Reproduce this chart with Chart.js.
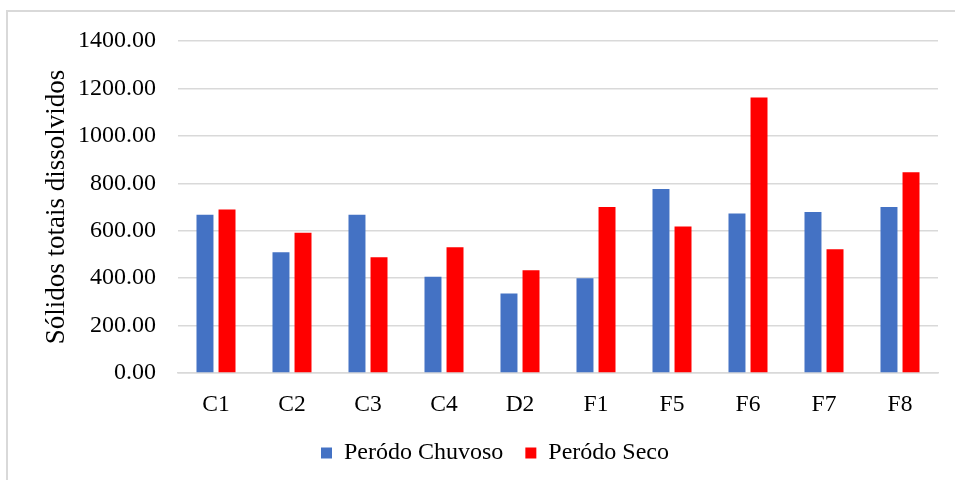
<!DOCTYPE html>
<html>
<head>
<meta charset="utf-8">
<script src="https://cdn.jsdelivr.net/npm/chart.js@4/dist/chart.umd.min.js"></script>
<style>
  html, body { margin: 0; padding: 0; background: #ffffff; }
  #wrap { position: relative; width: 955px; height: 480px; overflow: hidden; }
  #frame {
    position: absolute; left: 6px; top: 10px; width: 1000px; height: 600px;
    border-top: 2px solid #d9d9d9; border-left: 2px solid #d9d9d9;
  }
  #chart { position: absolute; left: 0; top: 0; }
</style>
</head>
<body>
<div id="wrap">
  <div id="frame"></div>
  <canvas id="chart" width="955" height="480"></canvas>
</div>
<script>
// Sampling points
const categories = ['C1', 'C2', 'C3', 'C4', 'D2', 'F1', 'F5', 'F6', 'F7', 'F8'];
// Total dissolved solids per sampling point
const chuvoso = [667, 509, 667, 406, 335, 400, 776, 673, 679, 700];
const seco = [689, 591, 488, 530, 433, 700, 618, 1162, 522, 847];
const seriesNames = ['Peródo Chuvoso', 'Peródo Seco'];
const yTitle = 'Sólidos totais dissolvidos';
const yMin = 0, yMax = 1400, yStep = 200;

const serif = 'Liberation Serif';
const gridColor = '#d9d9d9';
const padLeft = 52;   // shifts the centred legend; the y axis absorbs it

Chart.defaults.font.family = serif;
Chart.defaults.color = '#000000';

new Chart(document.getElementById('chart'), {
  type: 'bar',
  data: {
    labels: categories,
    datasets: [
      { label: seriesNames[0], data: chuvoso, backgroundColor: '#4472c4',
        categoryPercentage: 0.58, barPercentage: 0.77 },
      { label: seriesNames[1], data: seco, backgroundColor: '#ff0000',
        categoryPercentage: 0.58, barPercentage: 0.77 }
    ]
  },
  options: {
    responsive: false,
    animation: false,
    layout: { padding: { left: padLeft, right: 17, top: 41, bottom: 5 } },
    plugins: {
      tooltip: { enabled: false },
      legend: {
        position: 'bottom',
        labels: {
          color: '#000000',
          font: { family: serif, size: 24 },
          boxWidth: 11, boxHeight: 11,
          padding: 22
        }
      }
    },
    scales: {
      x: {
        grid: { display: false, drawTicks: false },
        border: { display: true, color: gridColor, width: 1.5 },
        ticks: { color: '#000000', font: { family: serif, size: 23.5 }, padding: 18 },
        afterFit: (s) => { s.height = 46; }
      },
      y: {
        min: yMin, max: yMax,
        grid: { color: gridColor, lineWidth: 1.5, drawTicks: false },
        border: { display: false },
        ticks: {
          stepSize: yStep, color: '#000000',
          font: { family: serif, size: 24 }, padding: 22,
          callback: (v) => Number(v).toFixed(2)
        },
        title: {
          display: true, text: yTitle, color: '#000000',
          font: { family: serif, size: 27 },
          padding: { top: 41 - padLeft, bottom: 0 }
        },
        afterFit: (s) => { s.width = 178 - padLeft; }
      }
    }
  }
});
</script>
</body>
</html>
